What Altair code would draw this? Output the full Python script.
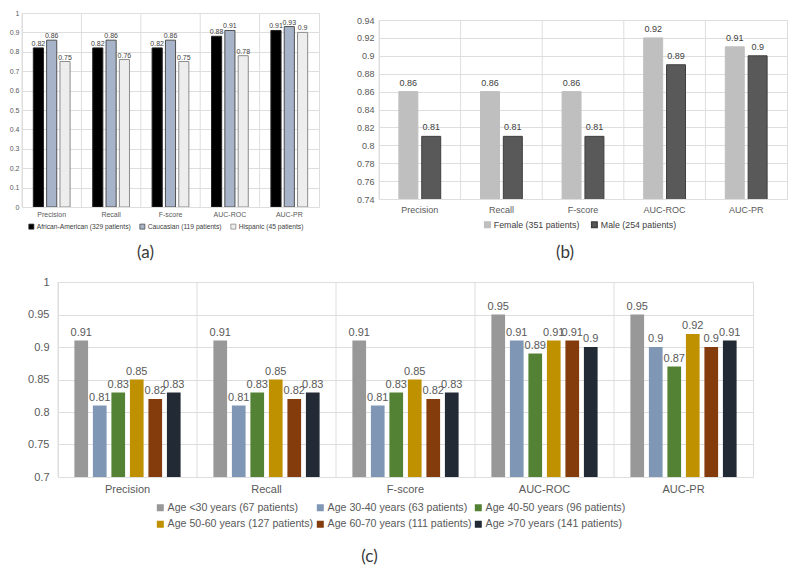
import altair as alt
import pandas as pd

metrics = ["Precision", "Recall", "F-score", "AUC-ROC", "AUC-PR"]

race_groups = ["African-American (329 patients)", "Caucasian (119 patients)", "Hispanic (45 patients)"]
race_african_american = [0.82, 0.82, 0.82, 0.88, 0.91]
race_caucasian = [0.86, 0.86, 0.86, 0.91, 0.93]
race_hispanic = [0.75, 0.76, 0.75, 0.78, 0.90]
race_colors = ["#000000", "#A7B3C8", "#EDEDED"]
race_strokes = ["#222222", "#4F4F4F", "#8C8C8C"]

sex_groups = ["Female (351 patients)", "Male (254 patients)"]
sex_female = [0.86, 0.86, 0.86, 0.92, 0.91]
sex_male = [0.81, 0.81, 0.81, 0.89, 0.90]
sex_colors = ["#BFBFBF", "#595959"]
sex_strokes = ["#BFBFBF", "#3F3F3F"]

age_groups = [
    "Age <30 years (67 patients)",
    "Age 30-40 years (63 patients)",
    "Age 40-50 years (96 patients)",
    "Age 50-60 years (127 patients)",
    "Age 60-70 years (111 patients)",
    "Age >70 years (141 patients)",
]
age_lt30 = [0.91, 0.91, 0.91, 0.95, 0.95]
age_30_40 = [0.81, 0.81, 0.81, 0.91, 0.90]
age_40_50 = [0.83, 0.83, 0.83, 0.89, 0.87]
age_50_60 = [0.85, 0.85, 0.85, 0.91, 0.92]
age_60_70 = [0.82, 0.82, 0.82, 0.91, 0.90]
age_gt70 = [0.83, 0.83, 0.83, 0.90, 0.91]
age_colors = ["#989898", "#7F97B5", "#548235", "#BF9000", "#843C0C", "#222A35"]

a_ticks = [0, 0.1, 0.2, 0.3, 0.4, 0.5, 0.6, 0.7, 0.8, 0.9, 1]
b_ticks = [0.74, 0.76, 0.78, 0.8, 0.82, 0.84, 0.86, 0.88, 0.9, 0.92, 0.94]
c_ticks = [0.7, 0.75, 0.8, 0.85, 0.9, 0.95, 1]

FONT = "Liberation Sans"
GRID = "#DEDEDE"
TXT = "#595959"


def make_df(groups, series):
    rows = []
    for g, vals in zip(groups, series):
        for m, v in zip(metrics, vals):
            rows.append({"metric": m, "group": g, "value": v, "label": f"{v:g}"})
    return pd.DataFrame(rows)


def panel(df, groups, colors, strokes, ticks, ydomain, yfmt, w, h, fs, lab_fs, lab_color,
          pin, pout, leg, title, tdx, toff, yaxis_extra, xlabpad, bar_sw, lab_dy):
    xs = alt.Scale(paddingInner=0, paddingOuter=0)
    xaxis = alt.Axis(title=None, labelAngle=0, ticks=False, domain=False, grid=False,
                     labelFontSize=fs, labelColor=TXT, labelFont=FONT, labelPadding=xlabpad)
    yaxis = alt.Axis(values=ticks, format=yfmt, grid=True, gridColor=GRID, domain=False,
                     ticks=False, labelFontSize=fs, labelColor=TXT, labelFont=FONT,
                     title=None, **yaxis_extra)
    ysc = alt.Scale(domain=ydomain, nice=False, zero=False)

    sep = alt.Chart(pd.DataFrame({"metric": metrics})).mark_rule(color=GRID, strokeWidth=1).encode(
        x=alt.X("metric:N", sort=metrics, bandPosition=0, scale=xs, axis=xaxis),
    )
    base = alt.Chart(df).encode(
        x=alt.X("metric:N", sort=metrics, scale=xs, axis=xaxis),
        xOffset=alt.XOffset("group:N", sort=groups,
                            scale=alt.Scale(paddingInner=pin, paddingOuter=pout)),
        y=alt.Y("value:Q", scale=ysc, axis=yaxis),
    )
    bars = base.mark_bar(strokeWidth=bar_sw, clip=True).encode(
        color=alt.Color("group:N", sort=groups, scale=alt.Scale(domain=groups, range=colors),
                        legend=alt.Legend(**leg)),
        stroke=alt.Stroke("group:N", sort=groups, scale=alt.Scale(domain=groups, range=strokes),
                          legend=None),
    )
    labels = base.mark_text(baseline="bottom", dy=lab_dy, fontSize=lab_fs, color=lab_color,
                            font=FONT).encode(text="label:N")
    return alt.layer(sep, bars, labels).properties(
        width=w, height=h,
        title=alt.TitleParams(title, orient="bottom", anchor="middle", fontSize=17,
                              font="Lato", color="#383838", fontWeight="normal", dx=tdx,
                              offset=toff),
    )


def blank(w, h):
    # empty layout cell, used only to offset a panel inside the grid
    return alt.Chart(pd.DataFrame({"v": [0]})).mark_rule(strokeWidth=0, strokeOpacity=0).encode(
        x=alt.value(0), y=alt.value(0), y2=alt.value(h)
    ).properties(width=w, height=h, view=alt.ViewBackground(stroke="transparent"))


df_a = make_df(race_groups, [race_african_american, race_caucasian, race_hispanic])
df_b = make_df(sex_groups, [sex_female, sex_male])
df_c = make_df(age_groups, [age_lt30, age_30_40, age_40_50, age_50_60, age_60_70, age_gt70])

A_W, A_H = 297, 194
B_W, B_H = 408, 179
C_W, C_H = 695, 195

chart_a = panel(
    df_a, race_groups, race_colors, race_strokes, a_ticks, [0, 1], ".1~f",
    w=A_W, h=A_H, fs=7, lab_fs=7, lab_color="#404040", pin=0.24, pout=0.85,
    leg=dict(orient="none", legendX=6, legendY=A_H + 16, direction="horizontal", columns=3,
             title=None, symbolType="square", symbolSize=25, labelFontSize=6.7,
             labelColor="#404040", labelFont=FONT, columnPadding=7, labelOffset=2,
             symbolStrokeColor="#404040", symbolStrokeWidth=0.8, labelLimit=300),
    title="(a)", tdx=-25, toff=14, yaxis_extra=dict(labelPadding=3), xlabpad=3,
    bar_sw=1, lab_dy=-1,
)

chart_b = panel(
    df_b, sex_groups, sex_colors, sex_strokes, b_ticks, [0.74, 0.94], ".2~f",
    w=B_W, h=B_H, fs=9, lab_fs=9, lab_color="#404040", pin=0.17, pout=0.87,
    leg=dict(orient="none", legendX=104, legendY=B_H + 21, direction="horizontal", columns=2,
             title=None, symbolType="square", symbolSize=30, labelFontSize=8.8,
             labelColor="#404040", labelFont=FONT, columnPadding=8, labelOffset=2,
             labelLimit=300),
    title="(b)", tdx=-18, toff=14,
    yaxis_extra=dict(labelPadding=5),
    xlabpad=6, bar_sw=1, lab_dy=-4,
)

chart_c = panel(
    df_c, age_groups, age_colors, age_colors, c_ticks, [0.7, 1.0], ".2~f",
    w=C_W, h=C_H, fs=11, lab_fs=11, lab_color=TXT, pin=0.26, pout=0.886,
    leg=dict(orient="none", legendX=97, legendY=C_H + 25, direction="horizontal", columns=3,
             title=None, symbolType="square", symbolSize=30, labelFontSize=10.6,
             labelColor=TXT, labelFont=FONT, columnPadding=0, rowPadding=4, labelOffset=2,
             labelLimit=300),
    title="(c)", tdx=-36, toff=18,
    yaxis_extra=dict(labelPadding=9),
    xlabpad=6, bar_sw=0, lab_dy=-3,
)

indep = dict(x="independent", y="independent", xOffset="independent",
             color="independent", stroke="independent")
leg_indep = dict(color="independent", stroke="independent")

# (b) sits a little lower than (a); (c) sits further right than (a)
b_cell = alt.vconcat(blank(1, 1), chart_b, spacing=0).resolve_scale(**indep).resolve_legend(**leg_indep)
c_cell = alt.hconcat(blank(1, 1), chart_c, spacing=3).resolve_scale(**indep).resolve_legend(**leg_indep)

top_row = alt.hconcat(chart_a, b_cell, spacing=35).resolve_scale(
    **indep).resolve_legend(**leg_indep)

chart = alt.vconcat(top_row, c_cell, spacing=13).resolve_scale(
    **indep).resolve_legend(**leg_indep).properties(
    padding=0, background="white").configure_view(stroke=GRID).configure(font=FONT)

chart.save("out.html", embed_options={"renderer": "svg", "actions": False})
